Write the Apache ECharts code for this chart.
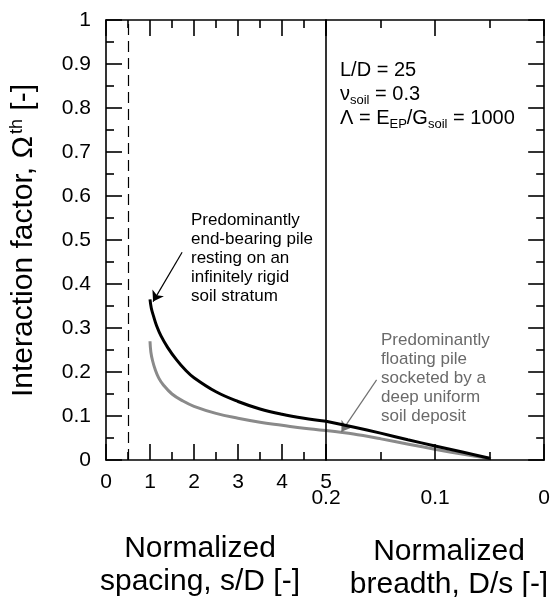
<!DOCTYPE html>
<html>
<head>
<meta charset="utf-8">
<script src="https://cdn.jsdelivr.net/npm/echarts@6/dist/echarts.min.js"></script>
<style>
  html, body { margin: 0; padding: 0; background: #fff; }
  #wrap { position: relative; width: 553px; height: 597px; }
  #under, #chart { position: absolute; left: 0; top: 0; width: 553px; height: 597px; }
</style>
</head>
<body>
<div id="wrap"><div id="under"></div><div id="chart"></div></div>
<script>
// 左半部分: s/D
let endBearingSpacing = [[1.0, 0.365], [1.03, 0.345], [1.08, 0.327], [1.15, 0.305], [1.25, 0.282], [1.4, 0.256], [1.6, 0.228], [1.8, 0.205], [2.0, 0.187], [2.5, 0.155], [3.0, 0.133], [3.5, 0.116], [4.0, 0.104], [4.5, 0.095], [5.0, 0.088]]
let floatingSpacing = [[1.0, 0.27], [1.02, 0.245], [1.06, 0.225], [1.12, 0.205], [1.2, 0.186], [1.3, 0.171], [1.5, 0.150], [1.75, 0.134], [2.0, 0.122], [2.5, 0.106], [3.0, 0.095], [3.5, 0.086], [4.0, 0.079], [4.5, 0.072], [5.0, 0.067]]
// 右半部分: D/s
let endBearingBreadth = [[0.2, 0.088], [0.175, 0.075], [0.15, 0.061], [0.125, 0.046], [0.1, 0.032], [0.075, 0.018], [0.05, 0.004]]
let floatingBreadth = [[0.2, 0.067], [0.175, 0.059], [0.15, 0.048], [0.125, 0.036], [0.1, 0.024], [0.075, 0.013], [0.05, 0.003]]
// 标注箭头 (数据坐标)
let endArrow = [[1.73, 0.472], [1.07, 0.36]]
let floatArrow = [[0.154, 0.182], [0.186, 0.064]]
let dashedSpacing = 0.5

let font = 'Liberation Sans, Arial, sans-serif'
let black = '#000'
let gray = '#8a8a8a'

let grids = [
    { left: 106, top: 20, width: 220, height: 440 },
    { left: 326, top: 20, width: 220, height: 440 }
]

function tickAxis(opt) {
    return Object.assign({
        type: 'value',
        axisLine: { show: true, onZero: false, lineStyle: { color: black, width: 1.6 } },
        axisTick: { show: true, inside: true, length: 16, lineStyle: { color: black, width: 1.6 } },
        minorTick: { show: true, splitNumber: 2, length: 8, lineStyle: { color: black, width: 1.6 } },
        splitLine: { show: false },
        axisLabel: { show: false }
    }, opt)
}

// 隐藏的坐标轴 (底层用)
function hiddenAxis(opt) {
    return Object.assign({
        type: 'value',
        axisLine: { show: false }, axisTick: { show: false }, minorTick: { show: false },
        splitLine: { show: false }, axisLabel: { show: false }
    }, opt)
}

function txt(x, y, text, size, opt) {
    return {
        type: 'text', x: x, y: y, rotation: (opt && opt.rotation) || 0,
        style: {
            text: text, font: size + 'px ' + font, fill: (opt && opt.fill) || black,
            textAlign: (opt && opt.align) || 'left', textVerticalAlign: (opt && opt.vAlign) || 'middle',
            lineHeight: (opt && opt.lineHeight) || undefined
        }
    }
}

let tickLabel = { show: true, fontFamily: font, fontSize: 21, color: black }
let up = { rotation: Math.PI / 2 }

// 底层: 灰色曲线、箭头、文字
let under = echarts.init(document.getElementById('under'))
under.setOption({
    animation: false,
    backgroundColor: '#fff',
    grid: grids,
    xAxis: [
        hiddenAxis({ gridIndex: 0, min: 0, max: 5 }),
        hiddenAxis({ gridIndex: 1, min: 0, max: 0.2, inverse: true })
    ],
    yAxis: [
        hiddenAxis({ gridIndex: 0, min: 0, max: 1 }),
        hiddenAxis({ gridIndex: 1, min: 0, max: 1 })
    ],
    series: [
        {
            type: 'line', xAxisIndex: 0, yAxisIndex: 0, data: floatingSpacing,
            smooth: 0.4, symbol: 'none', lineStyle: { color: gray, width: 3 },
            markLine: {
                silent: true, animation: false, label: { show: false },
                data: [
                    [{ coord: endArrow[0], symbol: 'none' }, { coord: endArrow[1], symbol: 'arrow', symbolSize: 10, lineStyle: { color: black, width: 1.2, type: 'solid' } }]
                ]
            }
        },
        {
            type: 'line', xAxisIndex: 1, yAxisIndex: 1, data: floatingBreadth,
            smooth: 0.3, symbol: 'none', lineStyle: { color: gray, width: 3 },
            markLine: {
                silent: true, animation: false, label: { show: false },
                data: [
                    [{ coord: floatArrow[0], symbol: 'none' }, { coord: floatArrow[1], symbol: 'arrow', symbolSize: 10, lineStyle: { color: '#707070', width: 1.2, type: 'solid' } }]
                ]
            }
        }
    ],
    graphic: [
        // y轴标题
        txt(24, 397, 'Interaction factor, Ω', 30, up),
        txt(17, 134, 'th', 18, up),
        txt(24, 119, ' [-]', 30, up),
        // x轴标题
        txt(200, 532, 'Normalized\nspacing, s/D [-]', 30, { align: 'center', vAlign: 'top', lineHeight: 33 }),
        txt(449, 535, 'Normalized\nbreadth, D/s [-]', 30, { align: 'center', vAlign: 'top', lineHeight: 33 }),
        // 参数
        txt(340, 70, 'L/D = 25', 20),
        txt(340, 94, 'ν', 20),
        txt(350, 100, 'soil', 13),
        txt(369.5, 94, ' = 0.3', 20),
        txt(340, 118, 'Λ = E', 20),
        txt(389.5, 124, 'EP', 13),
        txt(406.8, 118, '/G', 20),
        txt(428, 124, 'soil', 13),
        txt(447.5, 118, ' = 1000', 20),
        // 标注文字
        txt(191, 211, 'Predominantly\nend-bearing pile\nresting on an\ninfinitely rigid\nsoil stratum', 17, { vAlign: 'top', lineHeight: 19 }),
        txt(381, 331, 'Predominantly\nfloating pile\nsocketed by a\ndeep uniform\nsoil deposit', 17, { vAlign: 'top', lineHeight: 19, fill: '#6a6a6a' })
    ]
})

// 上层: 坐标轴、黑色曲线、虚线 (透明背景)
let myChart = echarts.init(document.getElementById('chart'))
myChart.setOption({
    animation: false,
    grid: grids,
    xAxis: [
        tickAxis({ gridIndex: 0, position: 'bottom', min: 0, max: 5, interval: 1,
            axisLabel: Object.assign({}, tickLabel, { margin: 12 }) }),
        tickAxis({ gridIndex: 0, position: 'top', min: 0, max: 5, interval: 1 }),
        tickAxis({ gridIndex: 1, position: 'bottom', min: 0, max: 0.2, interval: 0.1, inverse: true,
            axisLabel: Object.assign({}, tickLabel, { margin: 28 }) }),
        tickAxis({ gridIndex: 1, position: 'top', min: 0, max: 0.2, interval: 0.1, inverse: true })
    ],
    yAxis: [
        tickAxis({ gridIndex: 0, position: 'left', min: 0, max: 1, interval: 0.1,
            axisLabel: Object.assign({}, tickLabel, { margin: 15 }) }),
        tickAxis({ gridIndex: 0, position: 'right', min: 0, max: 1, interval: 0.1,
            axisTick: { show: false }, minorTick: { show: false } }),
        tickAxis({ gridIndex: 1, position: 'right', min: 0, max: 1, interval: 0.1 })
    ],
    series: [
        {
            type: 'line', xAxisIndex: 0, yAxisIndex: 0, data: endBearingSpacing,
            smooth: 0.4, symbol: 'none', lineStyle: { color: black, width: 3 },
            markLine: {
                silent: true, animation: false, label: { show: false },
                data: [
                    [{ coord: [dashedSpacing, 0], symbol: 'none' }, { coord: [dashedSpacing, 1], symbol: 'none', lineStyle: { color: black, width: 1.2, type: [11, 6] } }]
                ]
            }
        },
        {
            type: 'line', xAxisIndex: 2, yAxisIndex: 2, data: endBearingBreadth,
            smooth: 0.3, symbol: 'none', lineStyle: { color: black, width: 3 }
        }
    ]
})
</script>
</body>
</html>
